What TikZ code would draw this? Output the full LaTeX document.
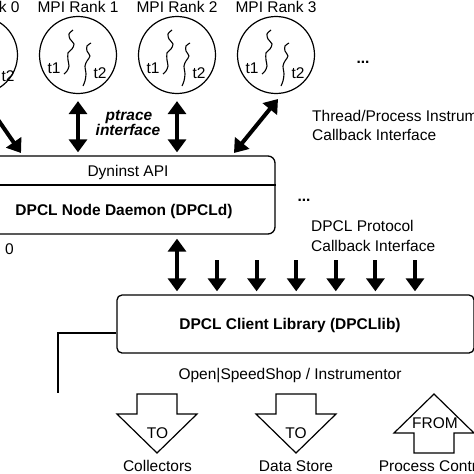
\documentclass[tikz,border=0pt]{standalone}
\usepackage{fontspec}
\setmainfont{Liberation Sans}
\usetikzlibrary{arrows.meta}
\tikzset{
	rank/.style    = {draw, circle, line width=1.2pt, minimum size=77pt, inner sep=0pt},
	thread/.style  = {line width=1.1pt},
	box/.style     = {draw, rectangle, rounded corners=7pt, line width=1.3pt, inner sep=0pt},
	dbl/.style     = {line width=4pt, {Triangle[width=18pt,length=13pt]}-{Triangle[width=18pt,length=13pt]}},
	sgl/.style     = {line width=4pt, -{Triangle[width=18pt,length=13pt]}},
	block/.style   = {draw, line width=1.2pt, line join=miter},
	txt/.style     = {inner sep=0pt, anchor=base},
	lbl/.style     = {inner sep=0pt, anchor=north west, align=left}
}
\newcommand{\sz}{\fontsize{15.5}{19.5}\selectfont}

\begin{document}
\begin{tikzpicture}[x=1pt, y=-1pt, font=\sz]
	\useasboundingbox (0,0) rectangle (474,474);
	\clip (0,0) rectangle (474,474);

	% MPI ranks with two threads each
	\node at (-21,55) [rank] (r0) {};
	\node[txt] at (-21,12) {MPI Rank 0};
	\node[txt] at (8,81) {t2};
	\foreach \n/\x in {1/78,2/177,3/276}{
		\node at (\x,55) [rank] (r\n) {};
		\node[txt] at (\x,12) {MPI Rank \n};
		\draw[thread, shift={(\x,55)}] plot[smooth] coordinates
			{(-5,-25) (-9,-21) (-8,-16) (-4,-11) (-6,-6) (-10,-2) (-10,5) (-9,11) (-11,16) (-14,19)};
		\draw[thread, shift={(\x,55)}] plot[smooth] coordinates
			{(13,-12) (9,-9) (9,-4) (12,1) (9,6) (7,11) (8,19) (7,26) (5,31)};
		\node[txt] at (\x-24,73) {t1};
		\node[txt] at (\x+22,78) {t2};
	}
	\node[txt] at (363,63) {\bfseries ...};

	% daemon
	\node at (124,195) [box, minimum width=302pt, minimum height=78pt] (daemon) {};
	\draw[line width=1.3pt] ([yshift=10pt]daemon.west) -- ([yshift=10pt]daemon.east);
	\node[txt] (dyn) at (128,176) {Dyninst API};
	\node[txt] (dpcld) at (124,215) {\bfseries DPCL Node Daemon (DPCLd)};
	\node[txt] at (9.5,254) {0};

	% ptrace arrows
	\coordinate (a0) at (-19,95);
	\coordinate (b0) at (21,153);
	\draw[dbl] (a0) -- (b0);
	\draw[dbl, shorten <=7pt, shorten >=3pt] (r1.south) -- (r1.south |- daemon.north);
	\draw[dbl, shorten <=7pt, shorten >=3pt] (r2.south) -- (r2.south |- daemon.north);
	\coordinate (a3) at (278,99);
	\coordinate (b3) at (234,153);
	\draw[dbl] (a3) -- (b3);
	\node[txt, font=\sz\bfseries\itshape] at (129,120) {ptrace};
	\node[txt, font=\sz\bfseries\itshape] at (128,135) {interface};
	\node[lbl] at (312,110) {Thread/Process Instrumentation\\Callback Interface};

	% client library
	\node at (295.5,324) [box, rounded corners=5pt, minimum width=357pt, minimum height=58pt] (client) {};
	\node[txt] (lib) at (290,329) {\bfseries DPCL Client Library (DPCLlib)};
	\draw[dbl, shorten <=4pt, shorten >=3pt] (r2.south |- daemon.south) -- (r2.south |- client.north);
	\foreach \i in {0,...,5}{
		\coordinate (s\i) at ({217+39.6*\i},260);
		\draw[sgl, shorten >=3pt] (s\i) -- (s\i |- client.north);
	}
	\node[txt] at (304,201) {\bfseries ...};
	\node[lbl] at (311,220.5) {DPCL Protocol\\Callback Interface};

	\coordinate (tap) at (58,393);
	\draw[line width=1.2pt] ([yshift=-9pt]client.west) -| (tap);
	\node[txt] at (290,379) {Open\textbar SpeedShop / Instrumentor};

	% TO / FROM arrows
	\draw[block] (137,394) -- (177,394) -- (177,414) -- (197,414) -- (157,453) -- (117,414) -- (137,414) -- cycle;
	\draw[block] (276,394) -- (316,394) -- (316,414) -- (336,414) -- (296,453) -- (256,414) -- (276,414) -- cycle;
	\draw[block] (434,394) -- (474,433) -- (454,433) -- (454,453) -- (414,453) -- (414,433) -- (394,433) -- cycle;
	\node[txt] at (157.5,438) {TO};
	\node[txt] at (296,438) {TO};
	\node[txt] at (435,428) {FROM};
	\node[txt] at (157.5,471.5) {Collectors};
	\node[txt] at (296,471.5) {Data Store};
	\node[txt] at (434,471.5) {Process Control};
\end{tikzpicture}
\end{document}
